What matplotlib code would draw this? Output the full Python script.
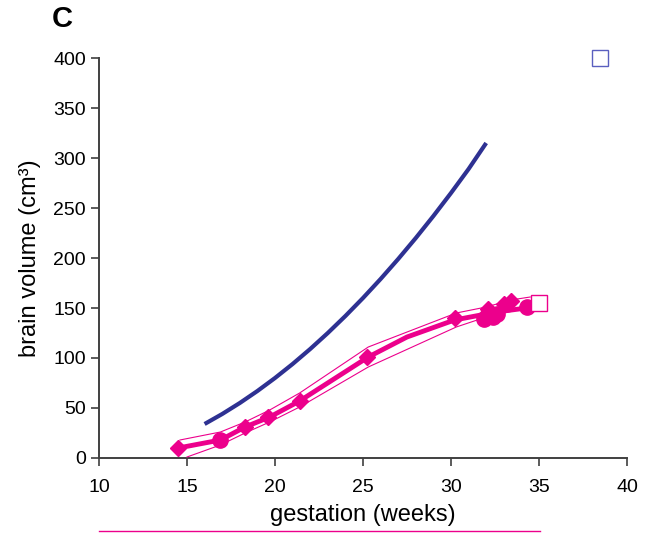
import matplotlib
matplotlib.use("Agg")
import matplotlib.pyplot as plt
from matplotlib.lines import Line2D

plt.rcParams['font.family'] = ['Liberation Sans', 'DejaVu Sans']

# --- data ---
blue_weeks = [16, 17, 18, 19, 20, 21, 22, 23, 24, 25, 26, 27, 28, 29, 30, 31, 32]
blue_vol = [34, 44, 55, 67, 80, 94, 109, 125, 142, 160, 179, 199, 220, 242, 265, 289, 315]

mean_weeks = [14.5, 16.9, 18.3, 19.7, 21.4, 25.3, 27.5, 30.2, 32.0, 33.0, 34.3]
mean_vol = [10, 18, 31, 41, 57, 101, 121, 138, 144, 147, 150]

upper_weeks = [14.6, 16.9, 18.3, 19.7, 21.4, 25.3, 30.3, 32.0, 33.4, 34.5]
upper_vol = [18, 26, 36, 48, 65, 111, 145, 151, 158, 161]

lower_weeks = [15.0, 16.9, 18.3, 19.7, 21.4, 25.3, 30.3, 32.0, 34.3]
lower_vol = [1, 13, 25, 36, 51, 91, 131, 141, 150]

diamond_weeks = [14.5, 18.3, 19.6, 21.4, 25.25, 30.2, 32.1, 33.0, 33.4]
diamond_vol = [10, 31, 41, 57, 101, 140, 149, 154, 157]

circle_weeks = [16.9, 31.9, 32.1, 32.4, 32.6, 34.3]
circle_vol = [18, 139, 144, 141, 144, 151]

open_sq_week = [35.0]
open_sq_vol = [155]

blue_sq_week = [38.45]
blue_sq_vol = [400]

xticks = [10, 15, 20, 25, 30, 35, 40]
yticks = [0, 50, 100, 150, 200, 250, 300, 350, 400]

PINK = '#EC008C'
NAVY = '#2E3192'

fig = plt.figure(figsize=(6.61, 5.33), dpi=100)
ax = fig.add_axes([99/661, 1-458/533, (627-99)/661, (458-58)/533])

ax.plot(blue_weeks, blue_vol, color=NAVY, lw=3.0, solid_capstyle='butt', zorder=3)
ax.plot(upper_weeks, upper_vol, color=PINK, lw=0.8, zorder=3)
ax.plot(lower_weeks, lower_vol, color=PINK, lw=0.8, zorder=3)
ax.plot(mean_weeks, mean_vol, color=PINK, lw=3.5, zorder=4)
ax.plot(diamond_weeks, diamond_vol, ls='none', marker='D', ms=8.5, color=PINK, mec=PINK, zorder=5)
ax.plot(circle_weeks, circle_vol, ls='none', marker='o', ms=11, color=PINK, mec=PINK, zorder=5)
ax.plot(open_sq_week, open_sq_vol, ls='none', marker='s', ms=11.5, mfc='white', mec=PINK, mew=1.0, zorder=6)
ax.plot(blue_sq_week, blue_sq_vol, ls='none', marker='s', ms=11.5, mfc='none', mec='#5a5fbf', mew=1.0,
        zorder=6, clip_on=False)

ax.set_xlim(10, 40)
ax.set_ylim(0, 400)
ax.set_xticks(xticks)
ax.set_yticks(yticks)
ax.spines['top'].set_visible(False)
ax.spines['right'].set_visible(False)
for s in ('left', 'bottom'):
    ax.spines[s].set_color('#404040')
    ax.spines[s].set_linewidth(1.4)
ax.tick_params(direction='out', length=5.5, width=1.2, color='#404040', labelsize=14)
ax.tick_params(axis='x', pad=9.5)
ax.tick_params(axis='y', pad=4)

ax.set_xlabel('gestation (weeks)', fontsize=17, labelpad=6)
ax.set_ylabel('brain volume (cm³)', fontsize=17, labelpad=9)

fig.text(62/661, 1-19/533, 'C', fontsize=21, fontweight='bold', ha='center', va='center')

fig.add_artist(Line2D([99/661, 540/661], [1-531/533, 1-531/533], color=PINK, lw=1.0,
                      transform=fig.transFigure))

fig.savefig('out.png', dpi=100)
